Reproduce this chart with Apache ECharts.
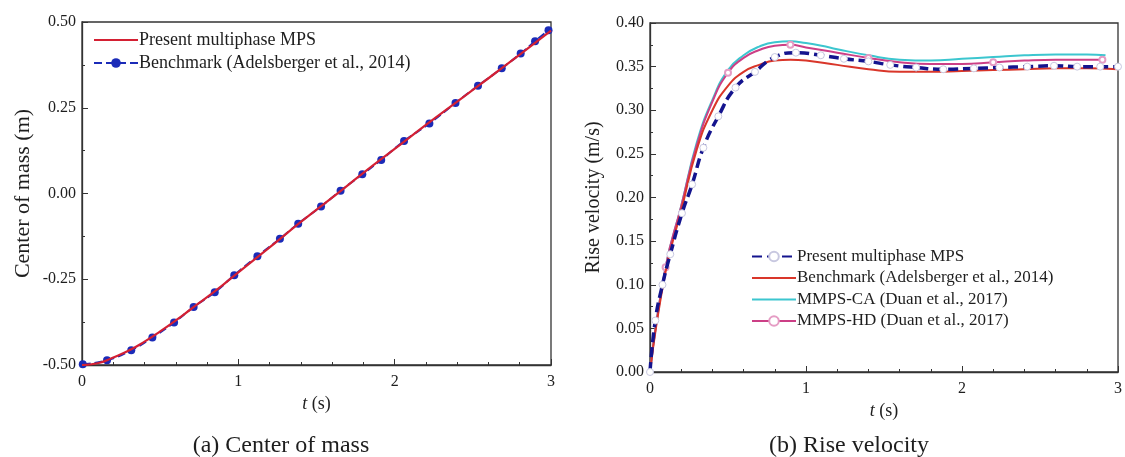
<!DOCTYPE html>
<html><head><meta charset="utf-8">
<script src="https://cdn.jsdelivr.net/npm/echarts@6/dist/echarts.min.js"></script>
<style>html,body{margin:0;padding:0;background:#fff}#c{width:1125px;height:457px}</style>
</head><body><div id="c"></div>
<script>
// ---- Panel (a): Center of mass ----
const tPresentA = [0,0.1,0.2,0.3,0.4,0.5,0.6,0.7,0.8,0.9,1.0,1.2,1.4,1.6,1.8,2.0,2.2,2.4,2.6,2.8,3.0];
const yPresentA = [-0.5,-0.495,-0.478,-0.458,-0.432,-0.402,-0.370,-0.336,-0.302,-0.267,-0.230,-0.157,-0.083,-0.012,0.060,0.130,0.200,0.268,0.336,0.405,0.475];
const tBenchA = [0.005,0.16,0.315,0.45,0.589,0.714,0.849,0.974,1.122,1.266,1.383,1.529,1.654,1.793,1.914,2.06,2.222,2.389,2.533,2.685,2.806,2.898,2.984];
const yBenchA = [-0.498,-0.486,-0.457,-0.420,-0.376,-0.331,-0.288,-0.238,-0.183,-0.132,-0.088,-0.038,0.008,0.056,0.098,0.153,0.204,0.264,0.314,0.365,0.408,0.444,0.476];

// ---- Panel (b): Rise velocity ----
const tPresentB = [0,0.034,0.08,0.13,0.205,0.27,0.342,0.438,0.548,0.673,0.80,0.935,1.095,1.243,1.40,1.54,1.706,1.88,2.076,2.24,2.418,2.59,2.738,2.886,3.0];
const vPresentB = [0,0.059,0.100,0.135,0.182,0.215,0.257,0.293,0.326,0.344,0.361,0.366,0.363,0.359,0.356,0.352,0.349,0.347,0.348,0.349,0.350,0.351,0.350,0.350,0.350];
const tBenchB = [0,0.1,0.2,0.3,0.4,0.5,0.6,0.7,0.8,0.9,1.0,1.2,1.4,1.6,1.8,2.0,2.2,2.4,2.6,2.8,3.0];
const vBenchB = [0,0.115,0.185,0.255,0.300,0.328,0.344,0.352,0.357,0.358,0.357,0.352,0.347,0.344,0.344,0.345,0.346,0.347,0.348,0.348,0.347];
const tCA = [0,0.1,0.2,0.3,0.4,0.5,0.6,0.7,0.8,0.9,1.0,1.1,1.2,1.4,1.6,1.8,2.0,2.2,2.4,2.6,2.8,2.92];
const vCA = [0,0.12,0.19,0.263,0.312,0.346,0.363,0.373,0.378,0.379,0.377,0.374,0.370,0.363,0.358,0.357,0.359,0.361,0.363,0.364,0.364,0.363];
const tHD = [0,0.1,0.2,0.3,0.4,0.5,0.6,0.7,0.8,0.9,1.0,1.1,1.2,1.4,1.6,1.8,2.0,2.2,2.4,2.6,2.8,2.9];
const vHD = [0,0.12,0.19,0.26,0.31,0.343,0.360,0.369,0.374,0.375,0.372,0.369,0.366,0.360,0.355,0.353,0.353,0.355,0.357,0.358,0.358,0.358];

const xTicks = ['0','1','2','3'];
const captions = ['(a) Center of mass', '(b) Rise velocity'];
const namesA = ['Present multiphase MPS', 'Benchmark (Adelsberger et al., 2014)'];
const namesB = ['Present multiphase MPS', 'Benchmark (Adelsberger et al., 2014)', 'MMPS-CA (Duan et al., 2017)', 'MMPS-HD (Duan et al., 2017)'];

const F = "'Liberation Serif','Times New Roman',serif";
const zip = (a, b) => a.map((v, i) => [v, b[i]]);
const axisCol = '#333';
const TXT = '#1e1e1e';

function xAx(gi) {
  return {
    type: 'value', gridIndex: gi, min: 0, max: 3, interval: 1,
    name: '{i|t} (s)', nameLocation: 'middle', nameGap: 28,
    nameTextStyle: { fontFamily: F, fontSize: 18, color: TXT, rich: { i: { fontStyle: 'italic', fontFamily: F, fontSize: 18, color: TXT } } },
    axisLine: { show: true, onZero: false, lineStyle: { color: axisCol, width: 1.3 } },
    axisTick: { inside: true, length: 6, lineStyle: { color: axisCol } },
    minorTick: { show: true, splitNumber: 5, length: 3, lineStyle: { color: axisCol } },
    splitLine: { show: false },
    axisLabel: { fontFamily: F, fontSize: 16, color: TXT, margin: 9, formatter: v => xTicks[Math.round(v)] }
  };
}
function yAx(gi, min, max, iv, name, gap, fs) {
  return {
    type: 'value', gridIndex: gi, min, max, interval: iv,
    name, nameLocation: 'middle', nameGap: gap, nameRotate: 90,
    nameTextStyle: { fontFamily: F, fontSize: fs, color: TXT },
    axisLine: { show: true, onZero: false, lineStyle: { color: axisCol, width: 1.3 } },
    axisTick: { inside: true, length: 6, lineStyle: { color: axisCol } },
    minorTick: { show: true, splitNumber: 2, length: 3, lineStyle: { color: axisCol } },
    splitLine: { show: false },
    axisLabel: { fontFamily: F, fontSize: 16, color: TXT, margin: 6, formatter: v => v.toFixed(2) }
  };
}
const hideSym = { opacity: 0 };

const chart = echarts.init(document.getElementById('c'), null, { renderer: 'canvas' });
chart.setOption({
  backgroundColor: '#fff',
  animation: false,
  title: [
    { text: captions[0], left: 276, top: 429, textAlign: 'center', textStyle: { fontFamily: F, fontSize: 24, fontWeight: 'normal', color: TXT } },
    { text: captions[1], left: 844, top: 429, textAlign: 'center', textStyle: { fontFamily: F, fontSize: 24, fontWeight: 'normal', color: TXT } }
  ],
  grid: [
    { left: 82, top: 22, width: 469, height: 343, show: true, borderColor: axisCol, borderWidth: 1.3, backgroundColor: 'transparent' },
    { left: 650, top: 23, width: 472, height: 349, show: true, borderColor: axisCol, borderWidth: 1.3, backgroundColor: 'transparent' }
  ],
  xAxis: [xAx(0), xAx(1)],
  yAxis: [yAx(0, -0.5, 0.5, 0.25, 'Center of mass (m)', 48, 22), yAx(1, 0, 0.4, 0.05, 'Rise velocity (m/s)', 46, 20)],
  legend: [
    {
      data: [{ name: 'a:' + namesA[0], itemStyle: hideSym }, { name: 'a:' + namesA[1] }],
      orient: 'vertical', left: 88, top: 26,
      itemWidth: 44, itemHeight: 12, itemGap: 5,
      formatter: n => n.slice(2),
      textStyle: { fontFamily: F, fontSize: 18, color: TXT, padding: [0, 0, 0, -4] }
    },
    {
      data: [
        { name: 'b:' + namesB[0] },
        { name: 'b:' + namesB[1], itemStyle: hideSym },
        { name: 'b:' + namesB[2], itemStyle: hideSym },
        { name: 'b:' + namesB[3] }
      ],
      orient: 'vertical', left: 746, top: 243,
      itemWidth: 44, itemHeight: 12, itemGap: 4.5,
      formatter: n => n.slice(2),
      textStyle: { fontFamily: F, fontSize: 17, color: TXT, padding: [0, 0, 0, -4] }
    }
  ],
  series: [
    {
      name: 'a:' + namesA[1], type: 'line', xAxisIndex: 0, yAxisIndex: 0, data: zip(tBenchA, yBenchA),
      smooth: true, symbol: 'circle', symbolSize: 8,
      lineStyle: { color: '#1b2bb8', width: 2, type: [8, 4] }, itemStyle: { color: '#1b2bb8' }, z: 2
    },
    {
      name: 'a:' + namesA[0], type: 'line', xAxisIndex: 0, yAxisIndex: 0, data: zip(tPresentA, yPresentA),
      smooth: true, symbol: 'none', lineStyle: { color: '#d42033', width: 2.2 }, itemStyle: { color: '#d42033' }, z: 3
    },
    {
      name: 'b:' + namesB[2], type: 'line', xAxisIndex: 1, yAxisIndex: 1, data: zip(tCA, vCA),
      smooth: true, symbol: 'none', lineStyle: { color: '#3cc6cf', width: 2 }, itemStyle: { color: '#3cc6cf' }, z: 2
    },
    {
      name: 'b:' + namesB[3], type: 'line', xAxisIndex: 1, yAxisIndex: 1, data: zip(tHD, vHD),
      smooth: true, symbol: 'emptyCircle', symbolSize: (v, p) => (p && p.dataIndex % 4 === 1 ? 6 : 0),
      lineStyle: { color: '#cc3f86', width: 2 }, itemStyle: { color: '#e59cc4', borderWidth: 1 }, z: 3
    },
    {
      name: 'b:' + namesB[1], type: 'line', xAxisIndex: 1, yAxisIndex: 1, data: zip(tBenchB, vBenchB),
      smooth: true, symbol: 'none', lineStyle: { color: '#d9362a', width: 2 }, itemStyle: { color: '#d9362a' }, z: 4
    },
    {
      name: 'b:' + namesB[0], type: 'line', xAxisIndex: 1, yAxisIndex: 1, data: zip(tPresentB, vPresentB),
      smooth: true, symbol: 'circle', symbolSize: 7,
      lineStyle: { color: '#14148e', width: 3.5, type: [10, 5] },
      itemStyle: { color: '#ffffff', borderColor: '#c8c8e0', borderWidth: 1 }, z: 5
    }
  ]
});
</script></body></html>
